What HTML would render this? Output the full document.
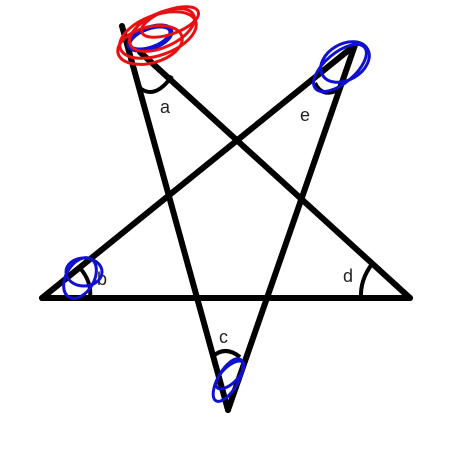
<!DOCTYPE html>
<html><head><meta charset="utf-8"><style>html,body{margin:0;padding:0;background:#fff;}svg{display:block}</style></head>
<body>
<svg width="450" height="450" viewBox="0 0 450 450">
<rect width="450" height="450" fill="#fff"/>
<g stroke="#000" stroke-width="6" stroke-linecap="round" fill="none">
<line x1="122" y1="26" x2="228" y2="410"/>
<line x1="228" y1="410" x2="355" y2="45"/>
<line x1="355" y1="45" x2="42" y2="298"/>
<line x1="42" y1="298" x2="410" y2="298"/>
<line x1="410" y1="298" x2="140" y2="52"/>
</g>
<g stroke="#000" stroke-width="4" fill="none">
<path d="M140,88 Q155,100 172,76"/>
<path d="M315,83 Q322,98 338,90"/>
<path d="M80,268 Q92,282 90,298"/>
<path d="M372,264 Q360,280 361,298"/>
<path d="M212,357 Q225,345 240,357"/>
</g>
<g font-family="Liberation Sans, sans-serif" font-size="18" fill="#222">
<text x="160" y="113">a</text>
<text x="300" y="121">e</text>
<text x="97" y="285">b</text>
<text x="343" y="282">d</text>
<text x="219" y="343">c</text>
</g>
<g fill="none" stroke-width="3">
<ellipse cx="150" cy="38" rx="22" ry="10" transform="rotate(-20 150 38)" stroke="#1010d0" fill="#fff" stroke-width="5"/>
<ellipse cx="158" cy="35" rx="40" ry="20" transform="rotate(-20 158 35)" stroke="#e81010"/>
<ellipse cx="162" cy="30" rx="35" ry="17" transform="rotate(-25 162 30)" stroke="#e81010"/>
<ellipse cx="150" cy="45" rx="33" ry="18" transform="rotate(-15 150 45)" stroke="#e81010"/>
<ellipse cx="170" cy="22" rx="30" ry="12" transform="rotate(-20 170 22)" stroke="#e81010"/>
<ellipse cx="340" cy="68" rx="32" ry="15" transform="rotate(-40 340 68)" stroke="#1010d0"/>
<ellipse cx="345" cy="62" rx="26" ry="18" transform="rotate(-30 345 62)" stroke="#1010d0"/>
<ellipse cx="80" cy="278" rx="14" ry="22" transform="rotate(30 80 278)" stroke="#1010d0"/>
<ellipse cx="84" cy="272" rx="18" ry="14" stroke="#1010d0"/>
<ellipse cx="228" cy="380" rx="10" ry="24" transform="rotate(30 228 380)" stroke="#1010d0"/>
<ellipse cx="230" cy="375" rx="8" ry="18" transform="rotate(45 230 375)" stroke="#1010d0"/>
</g>
</svg>
</body></html>
